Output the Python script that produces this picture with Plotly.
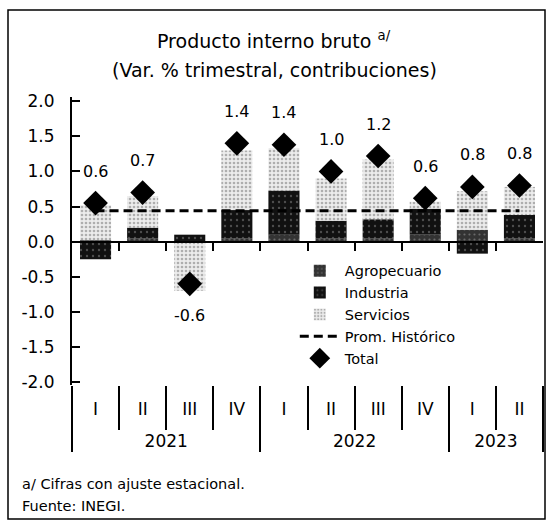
import plotly.graph_objects as go

years = ["2021"] * 4 + ["2022"] * 4 + ["2023"] * 2
quarters = ["I", "II", "III", "IV", "I", "II", "III", "IV", "I", "II"]

agropecuario = [0.02, 0.05, 0.00, 0.05, 0.10, 0.05, 0.05, 0.10, 0.17, 0.05]
industria = [-0.25, 0.15, 0.10, 0.40, 0.63, 0.25, 0.27, 0.37, -0.17, 0.33]
servicios = [0.50, 0.45, -0.70, 0.85, 0.60, 0.60, 0.85, 0.10, 0.55, 0.40]
total = [0.55, 0.70, -0.60, 1.40, 1.38, 1.00, 1.22, 0.62, 0.78, 0.80]
prom_historico = 0.44

y_min, y_max = -2.04, 2.06
y_ticks = [2.0, 1.5, 1.0, 0.5, 0.0, -0.5, -1.0, -1.5, -2.0]

FONT = "DejaVu Sans"
x_cat = [["<br>" + y for y in years], quarters]
idx = list(range(len(quarters)))


def px_x(p):
    return (p - 72) / 471


def px_y(p):
    return (385 - p) / 288


fig = go.Figure()
fig.add_trace(go.Bar(
    x=x_cat, y=agropecuario, name="Agropecuario", width=0.66,
    marker=dict(color="#333333", line=dict(width=0),
                pattern=dict(shape=".", fgcolor="#a0a0a0", size=5, solidity=0.15,
                             fillmode="overlay")),
))
fig.add_trace(go.Bar(
    x=x_cat, y=industria, name="Industria", width=0.66,
    marker=dict(color="#111111", line=dict(width=0),
                pattern=dict(shape=".", fgcolor="#888888", size=6, solidity=0.12,
                             fillmode="overlay")),
))
fig.add_trace(go.Bar(
    x=x_cat, y=servicios, name="Servicios", width=0.66,
    marker=dict(color="#ececec", line=dict(width=0),
                pattern=dict(shape=".", fgcolor="#707070", size=4, solidity=0.35,
                             fillmode="overlay")),
))
fig.add_trace(go.Scatter(
    x=x_cat, y=[prom_historico] * len(quarters), name="Prom. Histórico",
    mode="lines", line=dict(color="black", width=3, dash="9px,5px"),
))
fig.add_trace(go.Scatter(
    x=x_cat, y=total, name="Total", mode="markers",
    marker=dict(symbol="diamond", size=19, color="black"),
))
# helper trace so that the zero-line axis is drawn
fig.add_trace(go.Scatter(
    x=idx, y=total, xaxis="x2", mode="markers", marker=dict(opacity=0),
    showlegend=False, hoverinfo="skip",
))

for i, v in enumerate(total):
    fig.add_annotation(
        x=i, y=v, xref="x2", yref="y", text=f"{v:.1f}", showarrow=False,
        yshift=32 if v >= 0 else -32,
        font=dict(family=FONT, size=16, color="black"),
    )

fig.add_annotation(x=px_x(274), y=px_y(40), xref="paper", yref="paper",
                   xanchor="center", yanchor="middle",
                   text="Producto interno bruto <sup>a/</sup>", showarrow=False,
                   font=dict(family=FONT, size=19, color="black"))
fig.add_annotation(x=px_x(274), y=px_y(70), xref="paper", yref="paper",
                   xanchor="center", yanchor="middle",
                   text="(Var. % trimestral, contribuciones)", showarrow=False,
                   font=dict(family=FONT, size=19, color="black"))

fig.add_annotation(x=px_x(20), y=px_y(484), xref="paper", yref="paper",
                   xanchor="left", yanchor="middle",
                   text="a/ Cifras con ajuste estacional.", showarrow=False,
                   font=dict(family=FONT, size=14.5, color="black"))
fig.add_annotation(x=px_x(20), y=px_y(506), xref="paper", yref="paper",
                   xanchor="left", yanchor="middle",
                   text="Fuente: INEGI.", showarrow=False,
                   font=dict(family=FONT, size=14.5, color="black"))

fig.add_shape(type="rect", xref="paper", yref="paper",
              x0=px_x(8), x1=px_x(545), y0=px_y(519), y1=px_y(10),
              line=dict(color="black", width=1.5), layer="below")

fig.update_layout(
    template="none",
    width=548, height=520,
    margin=dict(l=72, r=5, t=97, b=135, autoexpand=False),
    paper_bgcolor="white", plot_bgcolor="white",
    barmode="relative", bargap=0.3,
    font=dict(family=FONT, size=16, color="black"),
    showlegend=True,
    legend=dict(x=0.473, y=0.452, xanchor="left", yanchor="top",
                bgcolor="rgba(255,255,255,0)", tracegroupgap=0,
                font=dict(family=FONT, size=14.5, color="black"),
                itemwidth=40),
    xaxis=dict(
        type="multicategory", range=[-0.5, 9.5], automargin=False,
        showline=False, showgrid=False, zeroline=False,
        ticks="outside", tickson="boundaries", ticklen=44,
        tickwidth=2, tickcolor="black",
        showdividers=True, dividercolor="black", dividerwidth=2,
        ticklabelstandoff=12,
        tickfont=dict(family=FONT, size=17, color="black"),
    ),
    xaxis2=dict(
        overlaying="x", anchor="free",
        position=(0 - y_min) / (y_max - y_min),
        range=[-0.5, 9.5], showgrid=False, zeroline=False,
        showline=True, linecolor="black", linewidth=2,
        tickmode="array", tickvals=[i + 0.5 for i in idx[:-1]],
        ticks="outside", ticklen=8, tickwidth=2, tickcolor="black",
        showticklabels=False,
    ),
    yaxis=dict(
        range=[y_min, y_max], tickmode="array", tickvals=y_ticks,
        ticktext=[f"{t:.1f}" for t in y_ticks], automargin=False,
        showgrid=False, zeroline=False,
        showline=True, linecolor="black", linewidth=2,
        ticks="inside", ticklen=8, tickwidth=2, tickcolor="black",
        ticklabelstandoff=12,
        tickfont=dict(family=FONT, size=17, color="black"),
    ),
)

fig.write_html("out.html", config={"displayModeBar": False},
               post_script="document.body.style.margin='0';")
